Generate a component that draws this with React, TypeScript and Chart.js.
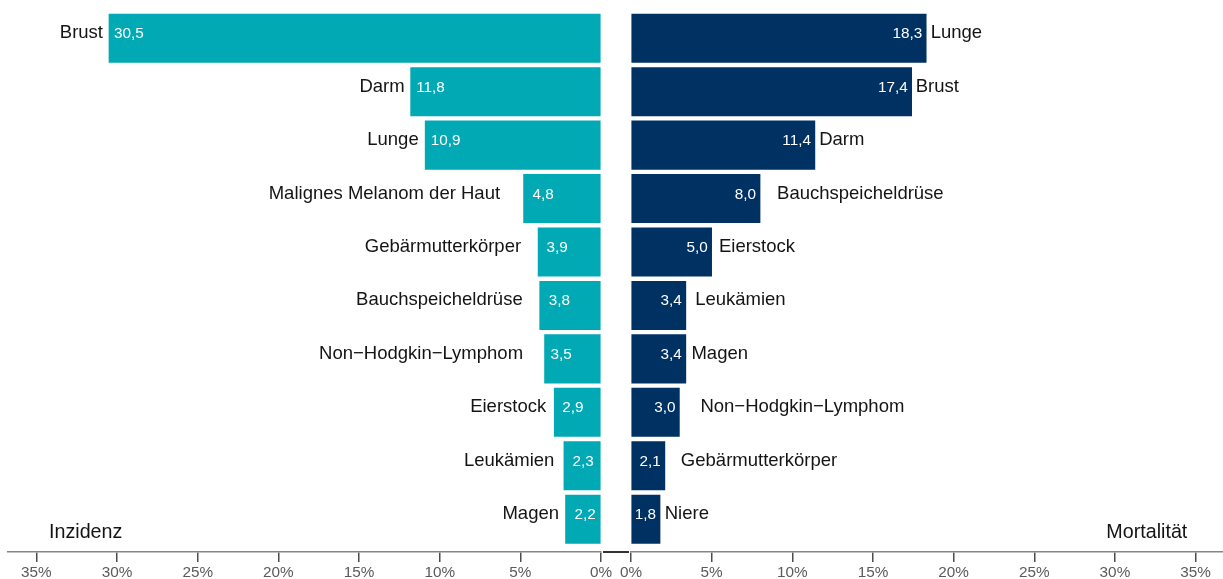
import React, { useEffect, useRef } from "react";
import { Chart, registerables } from "chart.js";

Chart.register(...registerables);

// ---- Data ----
const incidenceCategories = [
  "Brust",
  "Darm",
  "Lunge",
  "Malignes Melanom der Haut",
  "Gebärmutterkörper",
  "Bauchspeicheldrüse",
  "Non\u2212Hodgkin\u2212Lymphom",
  "Eierstock",
  "Leukämien",
  "Magen",
];
const incidenceValues = [30.5, 11.8, 10.9, 4.8, 3.9, 3.8, 3.5, 2.9, 2.3, 2.2];

const mortalityCategories = [
  "Lunge",
  "Brust",
  "Darm",
  "Bauchspeicheldrüse",
  "Eierstock",
  "Leukämien",
  "Magen",
  "Non\u2212Hodgkin\u2212Lymphom",
  "Gebärmutterkörper",
  "Niere",
];
const mortalityValues = [18.3, 17.4, 11.4, 8.0, 5.0, 3.4, 3.4, 3.0, 2.1, 1.8];

const tickValues = [0, 5, 10, 15, 20, 25, 30, 35];
const panelTitles = ["Inzidenz", "Mortalität"];

// ---- Label layout (pixel gaps between bar end and text) ----
const leftNameGap = [6, 6, 6.5, 23.5, 17, 17, 21.5, 8, 9.5, 6.5];
const leftValueGap = [5, 5.5, 5.5, 9, 8.5, 9, 6, 8, 8.5, 9];
const rightNameGap = [4.5, 4, 4.3, 17, 7.3, 9.3, 5.6, 21, 16, 4.7];

const FONT = '"Liberation Sans", Arial, Helvetica, sans-serif';
const TEAL = "#00A9B4";
const NAVY = "#003163";

const fmt = (v: number) => v.toFixed(1).replace(".", ",");

function makeLabelPlugin(side: "left" | "right") {
  return {
    id: "barLabels" + side,
    afterDatasetsDraw(chart: any) {
      const ctx = chart.ctx as CanvasRenderingContext2D;
      const meta = chart.getDatasetMeta(0);
      const cats = side === "left" ? incidenceCategories : mortalityCategories;
      const vals = side === "left" ? incidenceValues : mortalityValues;
      ctx.save();
      ctx.textBaseline = "alphabetic";
      meta.data.forEach((bar: any, i: number) => {
        const { x, y } = bar.getProps(["x", "y"], true);
        // value label inside bar
        ctx.font = `15.3px ${FONT}`;
        ctx.fillStyle = "#ffffff";
        if (side === "left") {
          ctx.textAlign = "left";
          ctx.fillText(fmt(vals[i]), x + leftValueGap[i], y);
        } else {
          ctx.textAlign = "right";
          ctx.fillText(fmt(vals[i]), x - 4, y);
        }
        // category label outside bar
        ctx.font = `18.5px ${FONT}`;
        ctx.fillStyle = "#141414";
        if (side === "left") {
          ctx.textAlign = "right";
          ctx.fillText(cats[i], x - leftNameGap[i], y);
        } else {
          ctx.textAlign = "left";
          ctx.fillText(cats[i], x + rightNameGap[i], y);
        }
      });
      // panel title
      const area = chart.chartArea;
      ctx.font = `19.7px ${FONT}`;
      ctx.fillStyle = "#141414";
      if (side === "left") {
        ctx.textAlign = "left";
        ctx.fillText(panelTitles[0], area.left + 41, area.bottom - 13.7);
      } else {
        ctx.textAlign = "right";
        ctx.fillText(panelTitles[1], area.right - 35.7, area.bottom - 13.7);
      }
      // dark joining segment of the axis between the two panels
      ctx.strokeStyle = "#333333";
      ctx.lineWidth = 2;
      ctx.beginPath();
      if (side === "left") {
        ctx.moveTo(area.right + 2, area.bottom);
        ctx.lineTo(chart.width, area.bottom);
      } else {
        ctx.moveTo(0, area.bottom);
        ctx.lineTo(area.left - 2, area.bottom);
      }
      ctx.stroke();
      ctx.restore();
    },
  };
}

function makeConfig(side: "left" | "right"): any {
  const vals = side === "left" ? incidenceValues : mortalityValues;
  const cats = side === "left" ? incidenceCategories : mortalityCategories;
  return {
    type: "bar",
    data: {
      datasets: [
        {
          label: side === "left" ? panelTitles[0] : panelTitles[1],
          data: vals.map((v, i) => ({ x: v, y: i, name: cats[i] })),
          backgroundColor: side === "left" ? TEAL : NAVY,
          borderWidth: 0,
          barThickness: 48.4,
        },
      ],
    },
    options: {
      indexAxis: "y",
      responsive: false,
      animation: false,
      devicePixelRatio: 1,
      layout: {
        padding:
          side === "left"
            ? { left: 8, right: 15, top: 11.5, bottom: 0 }
            : { left: 15, right: 0, top: 11.5, bottom: 0 },
      },
      plugins: {
        legend: { display: false },
        tooltip: { enabled: false },
      },
      scales: {
        y: {
          type: "linear",
          display: false,
          reverse: true,
          offset: false,
          min: -0.5,
          max: 9.614,
          grid: { offset: false },
          ticks: { stepSize: 1, includeBounds: false },
        },
        x: {
          type: "linear",
          position: "bottom",
          reverse: side === "left",
          min: 0,
          max: side === "left" ? 36.76 : 36.7,
          afterFit: (s: any) => {
            s.height = 27;
          },
          afterBuildTicks: (s: any) => {
            s.ticks = tickValues.map((v) => ({ value: v }));
          },
          grid: {
            drawOnChartArea: false,
            drawTicks: true,
            tickLength: 10,
            color: "#4d4d4d",
            lineWidth: 1.5,
          },
          border: { display: true, color: "#858585", width: 1.5 },
          ticks: {
            stepSize: 5,
            includeBounds: false,
            autoSkip: false,
            maxRotation: 0,
            padding: 2,
            color: "#5a5a5a",
            font: { family: FONT, size: 15.3 },
            callback: (v: any) => `${v}%`,
          },
        },
      },
    },
    plugins: [makeLabelPlugin(side)],
  };
}

export default function App() {
  const leftRef = useRef<HTMLCanvasElement | null>(null);
  const rightRef = useRef<HTMLCanvasElement | null>(null);

  useEffect(() => {
    const l = new Chart(leftRef.current as HTMLCanvasElement, makeConfig("left"));
    const r = new Chart(rightRef.current as HTMLCanvasElement, makeConfig("right"));
    return () => {
      l.destroy();
      r.destroy();
    };
  }, []);

  return (
    <div
      style={{
        position: "absolute",
        left: 0,
        top: 0,
        width: 1223,
        height: 579,
        background: "#ffffff",
      }}
    >
      <canvas
        ref={leftRef}
        width={616}
        height={579}
        style={{ position: "absolute", left: 0, top: 0, width: 616, height: 579 }}
      />
      <canvas
        ref={rightRef}
        width={607}
        height={579}
        style={{ position: "absolute", left: 616, top: 0, width: 607, height: 579 }}
      />
    </div>
  );
}
